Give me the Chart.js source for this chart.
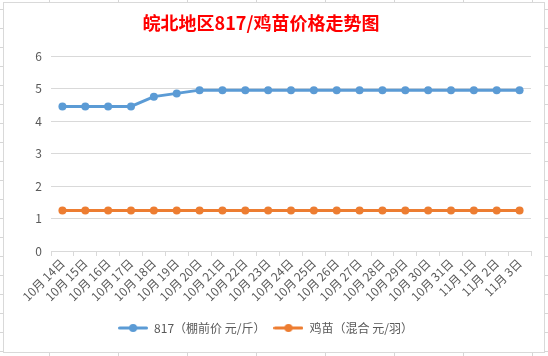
<!DOCTYPE html>
<html>
<head>
<meta charset="utf-8">
<script src="https://cdn.jsdelivr.net/npm/chart.js@4/dist/chart.umd.min.js"></script>
<style>
  html, body { margin: 0; padding: 0; }
  body {
    width: 548px; height: 356px; position: relative; overflow: hidden;
    background-color: #fff;
    background-image:
      repeating-linear-gradient(to right, transparent 0 49px, #d6d6d6 49px 50px, transparent 50px 69px),
      repeating-linear-gradient(to bottom, transparent 0 9px, #d6d6d6 9px 10px, transparent 10px 19px);
  }
  #box {
    position: absolute; left: 3px; top: 2px; width: 540px; height: 349px;
    background: #fff; border: 1px solid #d9d9d9;
  }
  #title {
    position: absolute; left: 0; top: 9px; width: 522px; text-align: center;
    font-family: "Noto Sans CJK SC", sans-serif; font-weight: bold; font-size: 18px;
    color: #ff0000; line-height: 26px; z-index: 2;
  }
  canvas { position: absolute; left: 0; top: 0; z-index: 1; }
</style>
</head>
<body>
<div id="box"></div>
<div id="title">皖北地区817/鸡苗价格走势图</div>
<canvas id="c" width="548" height="356"></canvas>
<script>
const categories = ["10月 14日","10月 15日","10月 16日","10月 17日","10月 18日","10月 19日","10月 20日","10月 21日","10月 22日","10月 23日","10月 24日","10月 25日","10月 26日","10月 27日","10月 28日","10月 29日","10月 30日","10月 31日","11月 1日","11月 2日","11月 3日"];
const series817 = [4.45,4.45,4.45,4.45,4.75,4.85,4.95,4.95,4.95,4.95,4.95,4.95,4.95,4.95,4.95,4.95,4.95,4.95,4.95,4.95,4.95];
const seriesChick = [1.25,1.25,1.25,1.25,1.25,1.25,1.25,1.25,1.25,1.25,1.25,1.25,1.25,1.25,1.25,1.25,1.25,1.25,1.25,1.25,1.25];
const seriesNames = ["817（棚前价 元/斤）","鸡苗（混合 元/羽）"];
const yTicks = [0,1,2,3,4,5,6];

const BLUE = "#5b9bd5", ORANGE = "#ed7d31";
function legendIcon(color) {
  const cv = document.createElement("canvas");
  cv.width = 30; cv.height = 10;
  const g = cv.getContext("2d");
  g.strokeStyle = color; g.lineWidth = 3; g.lineCap = "round";
  g.beginPath(); g.moveTo(1.5, 5); g.lineTo(28.5, 5); g.stroke();
  g.fillStyle = color; g.beginPath(); g.arc(15, 5, 4, 0, Math.PI * 2); g.fill();
  return cv;
}
const icons = [legendIcon(BLUE), legendIcon(ORANGE)];
const FONT = "'Noto Sans CJK SC', sans-serif";

new Chart(document.getElementById("c"), {
  type: "line",
  data: {
    labels: categories,
    datasets: [
      { label: seriesNames[0], data: series817, borderColor: BLUE, backgroundColor: BLUE,
        borderWidth: 3, pointRadius: 4, pointHoverRadius: 4, pointBorderWidth: 0, tension: 0 },
      { label: seriesNames[1], data: seriesChick, borderColor: ORANGE, backgroundColor: ORANGE,
        borderWidth: 3, pointRadius: 4, pointHoverRadius: 4, pointBorderWidth: 0, tension: 0 }
    ]
  },
  options: {
    responsive: false,
    animation: false,
    layout: { padding: { top: 56, right: 17, bottom: 12, left: 0 } },
    plugins: {
      title: { display: false },
      tooltip: { enabled: false },
      legend: {
        position: "bottom",
        labels: {
          usePointStyle: true,
          pointStyleWidth: 30,
          padding: 8,
          color: "#595959",
          font: { family: FONT, size: 12 },
          generateLabels: (chart) => chart.data.datasets.map((ds, i) => ({
            text: ds.label, pointStyle: icons[i], fillStyle: ds.borderColor,
            strokeStyle: ds.borderColor, lineWidth: 0, hidden: false, datasetIndex: i, fontColor: "#595959"
          }))
        }
      }
    },
    scales: {
      x: {
        offset: true,
        grid: { display: true, drawOnChartArea: false, drawTicks: true, tickLength: 5, color: "#d9d9d9", offset: true },
        border: { display: true, color: "#d9d9d9" },
        ticks: { color: "#595959", font: { family: FONT, size: 12 }, minRotation: 45, maxRotation: 45, autoSkip: false, padding: 0 },
        afterFit: (s) => { s.height = 63; }
      },
      y: {
        min: yTicks[0], max: yTicks[yTicks.length - 1],
        grid: { color: "#d9d9d9", drawTicks: false },
        border: { display: false },
        ticks: { stepSize: 1, color: "#595959", font: { family: FONT, size: 12 }, padding: 9 },
        afterFit: (s) => { s.width = 51; }
      }
    }
  }
});
</script>
</body>
</html>
